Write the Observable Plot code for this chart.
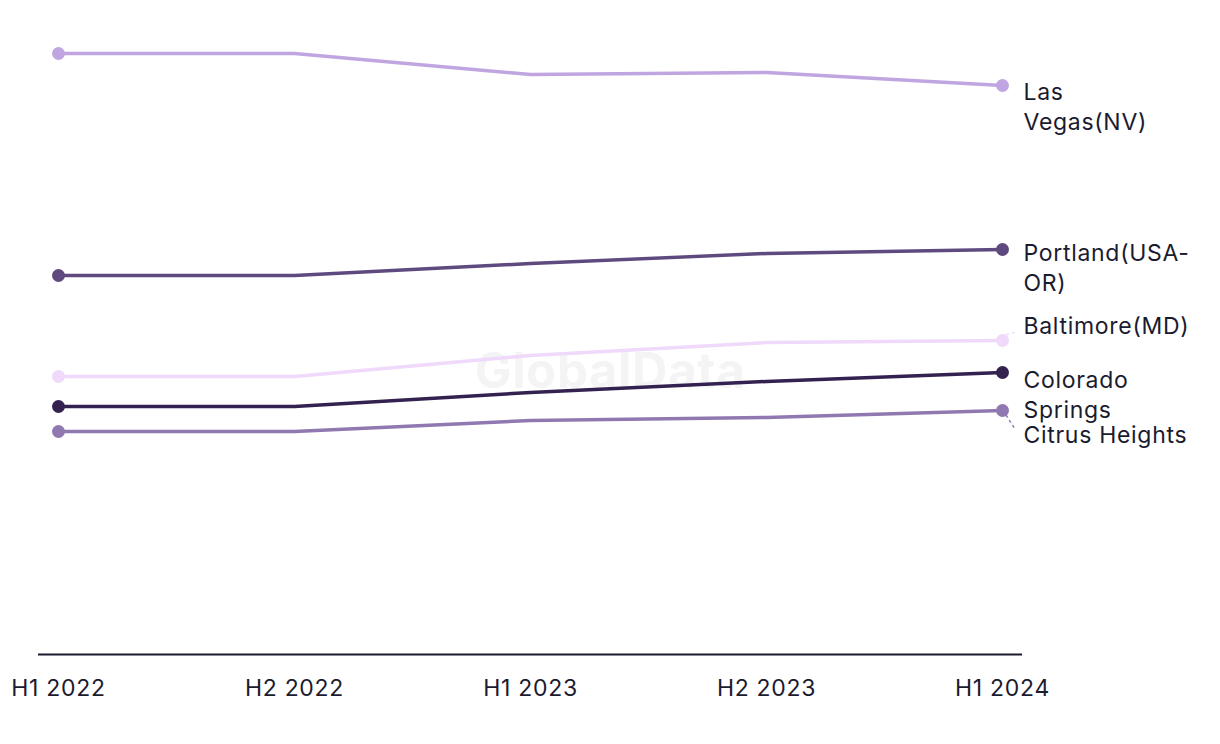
<!DOCTYPE html>
<html><head><meta charset="utf-8">
<script src="https://cdn.jsdelivr.net/npm/d3@7"></script>
<script src="https://cdn.jsdelivr.net/npm/@observablehq/plot@0.6"></script>
<style>
html,body{margin:0;padding:0;background:#fff;}
svg{font-family:Inter,"Noto Sans",sans-serif;}
svg text{letter-spacing:0.7px;}
</style></head>
<body><div id="chart"></div>
<script>
const periods = ["H1 2022", "H2 2022", "H1 2023", "H2 2023", "H1 2024"];
const cities = ["Las Vegas(NV)", "Portland(USA-OR)", "Baltimore(MD)", "Colorado Springs", "Citrus Heights"];
const cityLabels = ["Las\nVegas(NV)", "Portland(USA-\nOR)", "Baltimore(MD)", "Colorado\nSprings", "Citrus Heights"];
const lasVegas = [60.1, 60.1, 58.0, 58.2, 56.9];
const portland = [37.9, 37.9, 39.1, 40.1, 40.5];
const baltimore = [27.8, 27.8, 29.9, 31.2, 31.4];
const coloradoSprings = [24.8, 24.8, 26.2, 27.3, 28.2];
const citrusHeights = [22.3, 22.3, 23.4, 23.7, 24.4];
const colors = ["#c0a5e1", "#5f4a7f", "#f0d9fb", "#33224f", "#9079b1"];

const seriesValues = [lasVegas, portland, baltimore, coloradoSprings, citrusHeights];
const data = [];
cities.forEach((c, i) => periods.forEach((p, j) => data.push({city: c, period: p, value: seriesValues[i][j]})));
const endpoints = data.filter(d => d.period === periods[0] || d.period === periods[periods.length - 1]);
const last = cities.map((c, i) => ({city: c, label: cityLabels[i], value: seriesValues[i][periods.length - 1]}));
// label pixel nudges (layout): offset of first-line centre from the end dot
const labelDy = [7, 4, -14, 8, 25];

const textColor = "#1b1b2f";
const plot = Plot.plot({
  width: 1220, height: 744,
  marginLeft: 57, marginRight: 218, marginTop: 0, marginBottom: 90,
  x: {type: "point", domain: periods, padding: 0, label: null, tickSize: 0, tickPadding: 25},
  y: {domain: [0, 65.4], axis: null},
  color: {domain: cities, range: colors},
  style: {fontSize: "23px", color: textColor, fontFamily: "Inter, 'Noto Sans', sans-serif"},
  marks: [
    Plot.text(["GlobalData"], {frameAnchor: "middle", dx: 80, dy: 45, fontSize: 49, fontWeight: 700, fill: "#f4f4f4"}),
    Plot.ruleY([0], {stroke: textColor, strokeWidth: 2, insetLeft: -19, insetRight: -20}),
    Plot.line(data, {x: "period", y: "value", z: "city", stroke: "city", strokeWidth: 3.5}),
    Plot.dot(endpoints, {x: "period", y: "value", fill: "city", r: 6.5}),
    ...last.map((d, i) => Plot.text([d], {x: () => periods[periods.length - 1], y: "value", text: "label", textAnchor: "start", lineAnchor: "top", lineHeight: 1.3, dx: 21, dy: labelDy[i] - 13.5, fill: textColor, fontSize: 23}))
  ]
});
document.getElementById("chart").appendChild(plot);

// dashed leader lines for displaced labels
const sx = plot.scale("x"), sy = plot.scale("y");
const svg = d3.select(plot);
last.forEach((d, i) => {
  if (Math.abs(labelDy[i]) < 12) return;
  const x0 = sx.apply(periods[periods.length - 1]);
  const y0 = sy.apply(d.value);
  const dir = Math.sign(labelDy[i]);
  svg.append("line")
    .attr("x1", x0 + 4).attr("y1", y0 + dir * 5)
    .attr("x2", x0 + 13).attr("y2", y0 + labelDy[i] - dir * 6)
    .attr("stroke", colors[i]).attr("stroke-width", 1.5).attr("stroke-dasharray", "3,3");
});
</script></body></html>
